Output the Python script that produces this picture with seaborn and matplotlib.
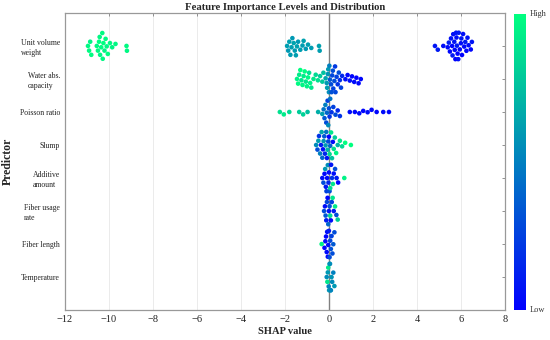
import matplotlib
matplotlib.use("Agg")
import matplotlib.pyplot as plt
import pandas as pd
import seaborn as sns

# 예측 변수 (위에서 아래 순서)
features = ["Unit volume\nweight", "Water abs.\ncapacity", "Poisson ratio", "Slump",
            "Additive\namount", "Fiber usage\nrate", "Fiber length", "Temperature"]

# 변수별 SHAP 값과 정규화된 특성값 (0 = Low, 1 = High)
uvw_shap = [-10.95, -10.9, -10.85, -10.8, -10.55, -10.5, -10.45, -10.42, -10.4, -10.35, -10.3,
            -10.28, -10.25, -10.2, -10.15, -10.1, -10.05, -9.95, -9.85, -9.7, -9.2, -9.18,
            -1.9, -1.85, -1.8, -1.75, -1.7, -1.66, -1.6, -1.55, -1.5, -1.45, -1.4, -1.3,
            -1.2, -1.15, -1.05, -0.95, -0.8, -0.45, -0.42,
            4.82, 4.95, 5.2, 5.4, 5.45, 5.5, 5.55, 5.6, 5.62, 5.65, 5.7, 5.72, 5.75, 5.78,
            5.8, 5.82, 5.85, 5.88, 5.9, 5.95, 6.0, 6.02, 6.05, 6.1, 6.15, 6.2, 6.25, 6.3,
            6.35, 6.45, 6.5]
uvw_val = [0.97, 0.98, 0.96, 0.99, 0.97, 0.98, 1.0, 0.97, 0.96, 0.99, 0.98,
           0.97, 1.0, 0.96, 0.98, 0.97, 0.99, 0.98, 0.96, 0.97, 0.98, 0.97,
           0.62, 0.6, 0.63, 0.61, 0.62, 0.6, 0.64, 0.61, 0.62, 0.63, 0.6, 0.62,
           0.61, 0.63, 0.6, 0.62, 0.61, 0.63, 0.62,
           0.08, 0.1, 0.05, 0.04, 0.12, 0.03, 0.06, 0.02, 0.1, 0.05, 0.08, 0.03, 0.0, 0.07,
           0.04, 0.1, 0.02, 0.06, 0.09, 0.03, 0.05, 0.08, 0.01, 0.06, 0.04, 0.1, 0.03, 0.07,
           0.05, 0.02, 0.08]

wac_shap = [-1.45, -1.4, -1.35, -1.3, -1.25, -1.2, -1.15, -1.1, -1.05, -1.0, -0.95, -0.9,
            -0.85, -0.8, -0.7, -0.6, -0.5, -0.4, -0.3, -0.25,
            -0.15, -0.1, -0.08, -0.05, -0.03, 0.0, 0.02,
            0.05, 0.1, 0.12, 0.15, 0.18, 0.2, 0.25, 0.28, 0.3, 0.35, 0.4, 0.45, 0.5, 0.55, 0.6,
            0.75, 0.85, 0.95, 1.05, 1.15, 1.25, 1.35, 1.45]
wac_val = [0.95, 0.98, 0.92, 1.0, 0.9, 0.96, 0.93, 0.99, 0.9, 0.95, 0.97, 0.88,
           0.94, 0.9, 0.92, 0.85, 0.88, 0.8, 0.78, 0.75,
           0.65, 0.6, 0.62, 0.58, 0.6, 0.55, 0.5,
           0.35, 0.3, 0.32, 0.28, 0.3, 0.25, 0.3, 0.22, 0.28, 0.25, 0.2, 0.3, 0.18, 0.25, 0.15,
           0.05, 0.03, 0.06, 0.02, 0.04, 0.01, 0.03, 0.02]

poi_shap = [-2.23, -2.05, -1.8, -1.35, -1.17, -0.97, -0.49, -0.3,
            -0.24, -0.2, -0.16, -0.12, -0.09, -0.06, -0.03, 0.0, 0.03, 0.06,
            0.12, 0.2, 0.3, 0.4, 0.5,
            0.95, 1.18, 1.38, 1.56, 1.76, 1.94, 2.17, 2.47, 2.73]
poi_val = [0.88, 0.92, 0.85, 0.8, 0.82, 0.75, 0.68, 0.62,
           0.45, 0.35, 0.5, 0.3, 0.4, 0.25, 0.55, 0.3, 0.2, 0.45,
           0.2, 0.25, 0.3, 0.15, 0.2,
           0.05, 0.03, 0.04, 0.02, 0.05, 0.03, 0.02, 0.04, 0.03]

slu_shap = [-0.58, -0.52, -0.48, -0.45, -0.4, -0.36, -0.33, -0.3, -0.27, -0.24, -0.21,
            -0.18, -0.15, -0.12, -0.09, -0.06, -0.03,
            0.0, 0.03, 0.06, 0.1, 0.14, 0.18, 0.22, 0.27, 0.33, 0.4, 0.5, 0.6, 0.74, 1.0]
slu_val = [0.55, 0.3, 0.62, 0.2, 0.5, 0.1, 0.65, 0.4, 0.05, 0.58, 0.35,
           0.15, 0.6, 0.45, 0.08, 0.7, 0.3,
           0.02, 0.85, 0.4, 0.9, 0.75, 0.05, 0.88, 0.8, 0.95, 0.7, 0.9, 0.85, 1.0, 1.0]

add_shap = [-0.3, -0.25, -0.2, -0.17, -0.14, -0.11, -0.08, -0.05, -0.02, 0.0,
            0.03, 0.06, 0.1, 0.14, 0.18, 0.22, 0.28, 0.35, 0.42, 0.7]
add_val = [0.05, 0.3, 0.02, 0.6, 0.1, 0.25, 0.03, 0.55, 0.15, 0.04,
           0.3, 0.85, 0.08, 0.2, 0.9, 0.05, 0.3, 0.1, 0.02, 0.95]

fur_shap = [-0.22, -0.18, -0.15, -0.12, -0.09, -0.06, -0.03, 0.0, 0.03,
            0.06, 0.09, 0.13, 0.17, 0.22, 0.28, 0.34, 0.4]
fur_val = [0.3, 0.05, 0.35, 0.1, 0.28, 0.02, 0.4, 0.08, 0.3,
           0.85, 0.05, 0.25, 0.9, 0.1, 0.92, 0.3, 0.8]

fle_shap = [-0.33, -0.2, -0.16, -0.13, -0.1, -0.08, -0.05, -0.03, 0.0,
            0.03, 0.06, 0.09, 0.12, 0.16, 0.2, 0.25]
fle_val = [0.95, 0.02, 0.04, 0.01, 0.03, 0.05, 0.02, 0.06, 0.1,
           0.3, 0.28, 0.32, 0.25, 0.3, 0.35, 0.3]

tem_shap = [-0.1, -0.07, -0.05, -0.03, -0.01, 0.01, 0.03, 0.05, 0.07, 0.09, 0.12, 0.15, 0.2, 0.25]
tem_val = [0.55, 0.9, 0.6, 0.92, 0.5, 0.58, 0.62, 0.55, 0.6, 0.52, 0.58, 0.55, 0.5, 0.6]

x_ticks = [-12, -10, -8, -6, -4, -2, 0, 2, 4, 6, 8]


def build_frame():
    shap_lists = [uvw_shap, wac_shap, poi_shap, slu_shap, add_shap, fur_shap, fle_shap, tem_shap]
    val_lists = [uvw_val, wac_val, poi_val, slu_val, add_val, fur_val, fle_val, tem_val]
    rows = []
    for name, s, v in zip(features, shap_lists, val_lists):
        for a, b in zip(s, v):
            rows.append({"feature": name, "shap": a, "value": b})
    return pd.DataFrame(rows)


df = build_frame()

sns.set_style("white")
plt.rcParams["font.family"] = ["Liberation Serif", "DejaVu Serif"]
plt.rcParams["axes.unicode_minus"] = True

fig = plt.figure(figsize=(5.5, 3.4), dpi=100)
ax = fig.add_axes([0.118, 0.088, 0.8, 0.874])
cax = fig.add_axes([0.935, 0.088, 0.022, 0.871])

ax.grid(True, color="#e8e8e8", lw=0.6, zorder=0)
ax.set_axisbelow(True)
sns.swarmplot(data=df, x="shap", y="feature", hue="value", order=features,
              palette="winter", hue_norm=(0, 1), size=3.3, linewidth=0,
              legend=False, ax=ax, warn_thresh=1.0)
ax.axvline(0, color="#808080", lw=1.0)

ax.set_xlim(-12, 8)
ax.set_ylim(8, -1)
ax.set_xticks(x_ticks)
ax.set_yticks(range(len(features)))
ax.set_yticklabels(features, fontsize=5.6, multialignment="left", linespacing=1.3)
ax.tick_params(axis="x", labelsize=7.5, pad=3.5)
ax.tick_params(direction="in", length=2.5, width=0.6, color="#808080",
               top=True, right=True, labelcolor="#222222")
for sp in ax.spines.values():
    sp.set_color("#999999")
    sp.set_linewidth(0.9)

ax.set_title("Feature Importance Levels and Distribution", fontsize=7.7,
             fontweight="bold", pad=1.8)
ax.set_xlabel("SHAP value", fontsize=7.6, fontweight="bold", labelpad=2.5)
ax.set_ylabel("Predictor", fontsize=8.5, fontweight="bold")
ax.yaxis.set_label_coords(-0.117, 0.5)

# 컬러바 (High / Low)
sm = plt.cm.ScalarMappable(cmap="winter", norm=plt.Normalize(0, 1))
cbar = fig.colorbar(sm, cax=cax)
cbar.set_ticks([])
cbar.outline.set_visible(False)
cax.text(1.25, 1.0, "High", transform=cax.transAxes, fontsize=6, va="center",
         ha="left", color="#333333")
cax.text(1.25, 0.0, "Low", transform=cax.transAxes, fontsize=6, va="center",
         ha="left", color="#333333")

fig.savefig("out.png", dpi=100)
